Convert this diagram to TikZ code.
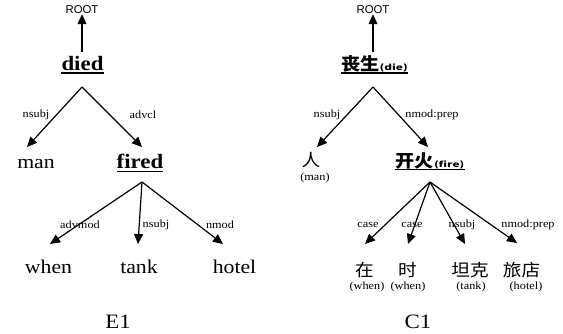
\documentclass[tikz,border=0pt]{standalone}
\usepackage{fontspec}
\usepackage{graphicx}
\setmainfont{Liberation Serif}[FakeStretch=1.12]
\newfontfamily\rootfont{Liberation Sans}
\newfontfamily\cjk{Noto Sans CJK SC}[FakeStretch=1.1]
\usetikzlibrary{arrows.meta,calc}
\tikzset{
  word/.style={font=\fontsize{19.5}{20}\selectfont, inner sep=0pt, anchor=base},
  headw/.style={font=\fontsize{20.5}{21}\selectfont\bfseries, inner sep=0pt, anchor=base},
  cjkhead/.style={font=\cjk\bfseries\fontsize{17.5}{18}\selectfont, inner sep=0pt, anchor=base},
  cjkw/.style={font=\cjk\fontsize{17}{18}\selectfont, inner sep=0pt},
  lab/.style={font=\fontsize{11}{12}\selectfont, inner sep=0pt},
  gloss/.style={font=\fontsize{11}{12}\selectfont, inner sep=0pt},
  rootlab/.style={font=\rootfont\fontsize{11.4}{12}\selectfont, inner sep=0pt},
  caption/.style={font=\fontsize{20.5}{21}\selectfont, inner sep=0pt, anchor=base},
  arr/.style={-{Triangle[length=10bp,width=9bp]}, line width=1.2bp},
  ul/.style={line width=1.7bp},
}
\newcommand{\smallbold}[1]{{\bfseries\fontsize{8}{9}\selectfont\scalebox{1.35}[1]{#1}}}
\begin{document}
\begin{tikzpicture}[x=1bp,y=-1bp]
\useasboundingbox (0,0) rectangle (563,333);

% ===== Left tree (E1) =====
\node[rootlab] (rootL) at (82,10) {ROOT};
\node[headw] (died) at (82.5,70) {died};
\draw[ul] ($(died.base west)+(0,2.8)$) -- ($(died.base east)+(0,2.8)$);
\coordinate (diedtop) at (82,52);
\coordinate (diedout) at (82,87);
\draw[arr] (diedtop) -- (rootL);

\node[word] (man) at (36,168) {man};
\node[headw] (fired) at (140,168) {fired};
\draw[ul] ($(fired.base west)+(0,3.5)$) -- ($(fired.base east)+(0,3.5)$);
\coordinate (tman) at (27,147);
\coordinate (tfired) at (142,147);
\draw[arr] (diedout) -- (tman);
\draw[arr] (diedout) -- (tfired);
\node[lab] (l1) at (36,115) {nsubj};
\node[lab] (l2) at (143,115) {advcl};

\coordinate (firedout) at (142,182);
\node[word] (when) at (48.5,273) {when};
\node[word] (tank) at (139,273) {tank};
\node[word] (hotel) at (234.5,273) {hotel};
\coordinate (twhen) at (50,244);
\coordinate (ttank) at (138,244);
\coordinate (thotel) at (223,244);
\draw[arr] (firedout) -- (twhen);
\draw[arr] (firedout) -- (ttank);
\draw[arr] (firedout) -- (thotel);
\node[lab] (l3) at (80,225) {advmod};
\node[lab] (l4) at (156,225) {nsubj};
\node[lab] (l5) at (220,225) {nmod};

\node[caption] (E1) at (118,328.5) {E1};

% ===== Right tree (C1) =====
\node[rootlab] (rootR) at (373,10) {ROOT};
\node[cjkhead] (die) at (374.5,70) {丧生\smallbold{(die)}};
\draw[ul] ($(die.base west)+(0,2.8)$) -- ($(die.base east)+(0,2.8)$);
\coordinate (dietop) at (373,52);
\coordinate (dieout) at (373,87);
\draw[arr] (dietop) -- (rootR);

\node[cjkw] (ren) at (311,160.5) {人};
\node[gloss] (gman) at (315,178) {(man)};
\node[cjkhead] (fire) at (430,167) {开火\smallbold{(fire)}};
\draw[ul] ($(fire.base west)+(0,2.5)$) -- ($(fire.base east)+(0,2.5)$);
\coordinate (tren) at (317,147);
\coordinate (tfire) at (428,147);
\draw[arr] (dieout) -- (tren);
\draw[arr] (dieout) -- (tfire);
\node[lab] (l6) at (327,115) {nsubj};
\node[lab] (l7) at (432,115) {nmod:prep};

\coordinate (fireout) at (430,182);
\node[cjkw] (zai) at (364.5,270) {在};
\node[cjkw] (shi) at (407.5,270) {时};
\node[cjkw] (tanke) at (470,270) {坦克};
\node[cjkw] (lvdian) at (521.5,270) {旅店};
\node[gloss] (g1) at (367,287) {(when)};
\node[gloss] (g2) at (408,287) {(when)};
\node[gloss] (g3) at (471,287) {(tank)};
\node[gloss] (g4) at (526,287) {(hotel)};
\coordinate (tzai) at (365,244);
\coordinate (tshi) at (408,244);
\coordinate (ttanke) at (465,244);
\coordinate (tlvdian) at (517,243);
\draw[arr] (fireout) -- (tzai);
\draw[arr] (fireout) -- (tshi);
\draw[arr] (fireout) -- (ttanke);
\draw[arr] (fireout) -- (tlvdian);
\node[lab] (l8) at (368,225) {case};
\node[lab] (l9) at (412,225) {case};
\node[lab] (l10) at (462,225) {nsubj};
\node[lab] (l11) at (528,225) {nmod:prep};

\node[caption] (C1) at (418,328.5) {C1};
\end{tikzpicture}
\end{document}
